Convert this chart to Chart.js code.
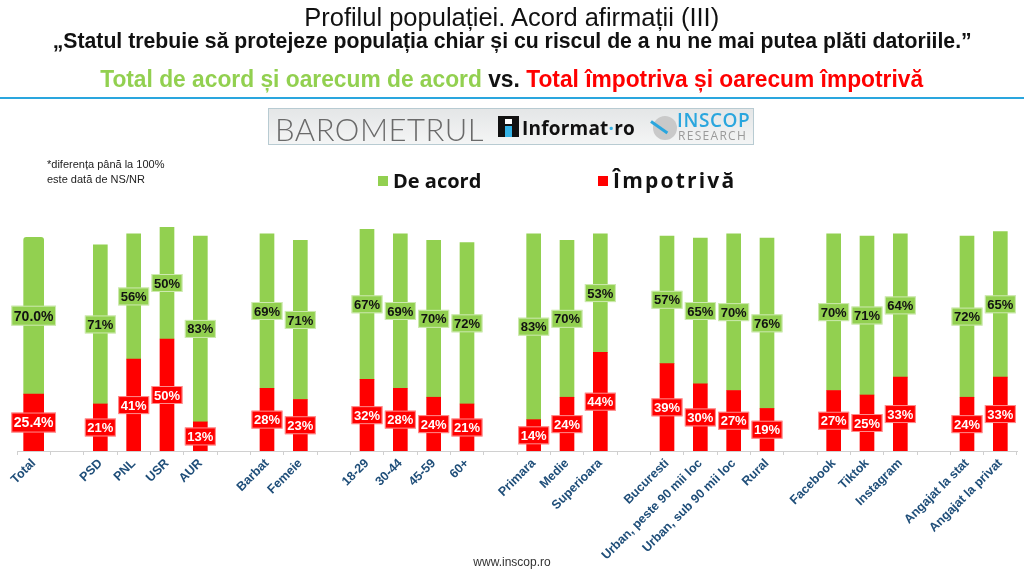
<!DOCTYPE html>
<html>
<head>
<meta charset="utf-8">
<script src="https://cdn.jsdelivr.net/npm/chart.js@4.4.1/dist/chart.umd.min.js"></script>
<style>
  html, body { margin: 0; padding: 0; background: #fff; }
  #wrap { position: relative; width: 1024px; height: 576px; overflow: hidden; font-family: "Liberation Sans", Arial, sans-serif; }
  #c { position: absolute; left: 0; top: 0; }
  .abs { position: absolute; white-space: nowrap; }
  .ctr { left: 0; width: 1024px; text-align: center; }
  .ctr span.sq { display: inline-block; transform-origin: center center; }
</style>
</head>
<body>
<div id="wrap">
  <canvas id="c" width="1024" height="576"></canvas>
  <div class="abs ctr" style="top:3px;font-size:26px;line-height:28px;color:#111;"><span class="sq" style="transform:scaleX(0.98);">Profilul populației. Acord afirmații (III)</span></div>
  <div class="abs ctr" style="top:29px;font-size:22px;line-height:24px;font-weight:bold;color:#111;"><span class="sq" style="transform:scaleX(0.965);">„Statul trebuie să protejeze populația chiar și cu riscul de a nu ne mai putea plăti datoriile.”</span></div>
  <div class="abs ctr" style="top:65px;font-size:23px;line-height:28px;font-weight:bold;"><span class="sq" style="transform:scaleX(0.99);"><span style="color:#92D050">Total de acord și oarecum de acord</span> <span style="color:#111">vs.</span> <span style="color:#FF0000">Total împotriva și oarecum împotrivă</span></span></div>
  <div class="abs" style="left:0;top:97px;width:1024px;height:2px;background:#2AA6DE;"></div>
  <div class="abs" style="left:268px;top:108px;width:486px;height:37px;background:linear-gradient(#e4e6e7,#f4f5f5);border:1px solid #b8cbd2;box-sizing:border-box;">
    <div class="abs" style="left:6px;top:1px;font-family:Lato,'Open Sans',sans-serif;font-weight:300;font-size:31px;color:#6a6a6a;letter-spacing:0.5px;">BAROMETRUL</div>
    <div class="abs" style="left:229px;top:7px;width:21px;height:21px;background:#111;"></div>
    <div class="abs" style="left:236px;top:10px;width:7px;height:5px;background:#fff;"></div>
    <div class="abs" style="left:236px;top:17px;width:7px;height:11px;background:#35b3e6;"></div>
    <div class="abs" style="left:253px;top:6px;font-family:'Open Sans',sans-serif;font-weight:bold;font-size:19px;color:#111;letter-spacing:0.2px;">Informat<span style="color:#35b3e6">·</span>ro</div>
    <div class="abs" style="left:384px;top:7px;width:24px;height:24px;border-radius:50%;background:#c9c9c9;"></div>
    <div class="abs" style="left:382px;top:11px;width:20px;height:3px;background:#2AA6DE;transform:rotate(35deg);transform-origin:left center;"></div>
    <div class="abs" style="left:408px;top:2px;font-family:'Open Sans',sans-serif;font-weight:600;font-size:19px;line-height:19px;color:#2AA6DE;letter-spacing:0.6px;">INSCOP</div>
    <div class="abs" style="left:409px;top:20px;font-family:'Open Sans',sans-serif;font-weight:400;font-size:12px;line-height:13px;color:#9a9a9a;letter-spacing:1.3px;">RESEARCH</div>
  </div>
  <div class="abs" style="left:47px;top:157px;font-size:11px;line-height:15px;color:#222;">*diferența până la 100%<br>este dată de NS/NR</div>
  <div class="abs" style="left:378px;top:176px;width:10px;height:10px;background:#92D050;"></div>
  <div class="abs" style="left:393px;top:167px;font-size:20px;font-weight:bold;color:#111;font-family:'Open Sans',sans-serif;">De acord</div>
  <div class="abs" style="left:598px;top:176px;width:10px;height:10px;background:#FF0000;"></div>
  <div class="abs" style="left:613px;top:166px;font-size:21px;font-weight:bold;color:#111;font-family:'Open Sans',sans-serif;letter-spacing:2.2px;">Împotrivă</div>
  <div class="abs ctr" style="top:555px;font-size:12px;color:#333;">www.inscop.ro</div>
</div>
<script>
const categories = ['Total', '', 'PSD', 'PNL', 'USR', 'AUR', '', 'Barbat', 'Femeie', '',
  '18-29', '30-44', '45-59', '60+', '', 'Primara', 'Medie', 'Superioara', '',
  'Bucuresti', 'Urban, peste 90 mii loc', 'Urban, sub 90 mii loc', 'Rural', '',
  'Facebook', 'Tiktok', 'Instagram', '', 'Angajat la stat', 'Angajat la privat'];
const deAcord = [70.0, null, 71, 56, 50, 83, null, 69, 71, null,
  67, 69, 70, 72, null, 83, 70, 53, null,
  57, 65, 70, 76, null, 70, 71, 64, null, 72, 65];
const impotriva = [25.4, null, 21, 41, 50, 13, null, 28, 23, null,
  32, 28, 24, 21, null, 14, 24, 44, null,
  39, 30, 27, 19, null, 27, 25, 33, null, 24, 33];
const seriesNames = ['De acord', 'Împotrivă'];

const GREEN = '#92D050', RED = '#FF0000';
const onlyTotal = arr => arr.map((v, i) => categories[i] === 'Total' ? v : null);
const noTotal = arr => arr.map((v, i) => categories[i] === 'Total' ? null : v);

const labelPlugin = {
  id: 'boxLabels',
  afterDatasetsDraw(chart) {
    const ctx = chart.ctx;
    chart.data.datasets.forEach((ds, di) => {
      const meta = chart.getDatasetMeta(di);
      meta.data.forEach((el, i) => {
        const v = ds.data[i];
        if (v === null || v === undefined) return;
        const isTotal = categories[i] === 'Total';
        const txt = (isTotal ? v.toFixed(1) : Math.round(v)) + '%';
        const fs = isTotal ? 14 : 13;
        ctx.save();
        ctx.font = 'bold ' + fs + 'px "Liberation Sans", Arial, sans-serif';
        const w = ctx.measureText(txt).width + 5;
        const h = isTotal ? 20 : 18;
        const cx = el.x, cy = (el.y + el.base) / 2;
        ctx.fillStyle = ds.backgroundColor;
        ctx.fillRect(cx - w / 2, cy - h / 2, w, h);
        ctx.strokeStyle = 'rgba(255,255,255,0.55)';
        ctx.lineWidth = 1;
        ctx.strokeRect(cx - w / 2 + 0.5, cy - h / 2 + 0.5, w - 1, h - 1);
        ctx.fillStyle = ds.backgroundColor === RED ? '#ffffff' : '#111111';
        ctx.textAlign = 'center';
        ctx.textBaseline = 'middle';
        ctx.fillText(txt, cx, cy + 1);
        ctx.restore();
      });
    });
  }
};

new Chart(document.getElementById('c'), {
  type: 'bar',
  data: {
    labels: categories,
    datasets: [
      { label: seriesNames[1], data: onlyTotal(impotriva), backgroundColor: RED, barThickness: 20 },
      { label: seriesNames[0], data: onlyTotal(deAcord), backgroundColor: GREEN, barThickness: 20, borderRadius: { topLeft: 3, topRight: 3 } },
      { label: seriesNames[1], data: noTotal(impotriva), backgroundColor: RED, barThickness: 14 },
      { label: seriesNames[0], data: noTotal(deAcord), backgroundColor: GREEN, barThickness: 14 }
    ]
  },
  options: {
    responsive: false,
    animation: false,
    layout: { padding: { left: 17, right: 7, top: 227, bottom: 0 } },
    plugins: { legend: { display: false }, tooltip: { enabled: false } },
    scales: {
      x: {
        stacked: true,
        afterFit: s => { s.height = 125; },
        border: { color: '#d0d0d0' },
        grid: { drawOnChartArea: false, drawTicks: true, tickLength: 4, color: '#d0d0d0', offset: true },
        ticks: {
          autoSkip: false, maxRotation: 45, minRotation: 45, padding: 1,
          color: '#1F4E79',
          font: { family: '"Liberation Sans", Arial, sans-serif', size: 12.5, weight: 'bold' }
        }
      },
      y: { stacked: true, display: false, min: 0, max: 100 }
    }
  },
  plugins: [labelPlugin]
});
</script>
</body>
</html>
